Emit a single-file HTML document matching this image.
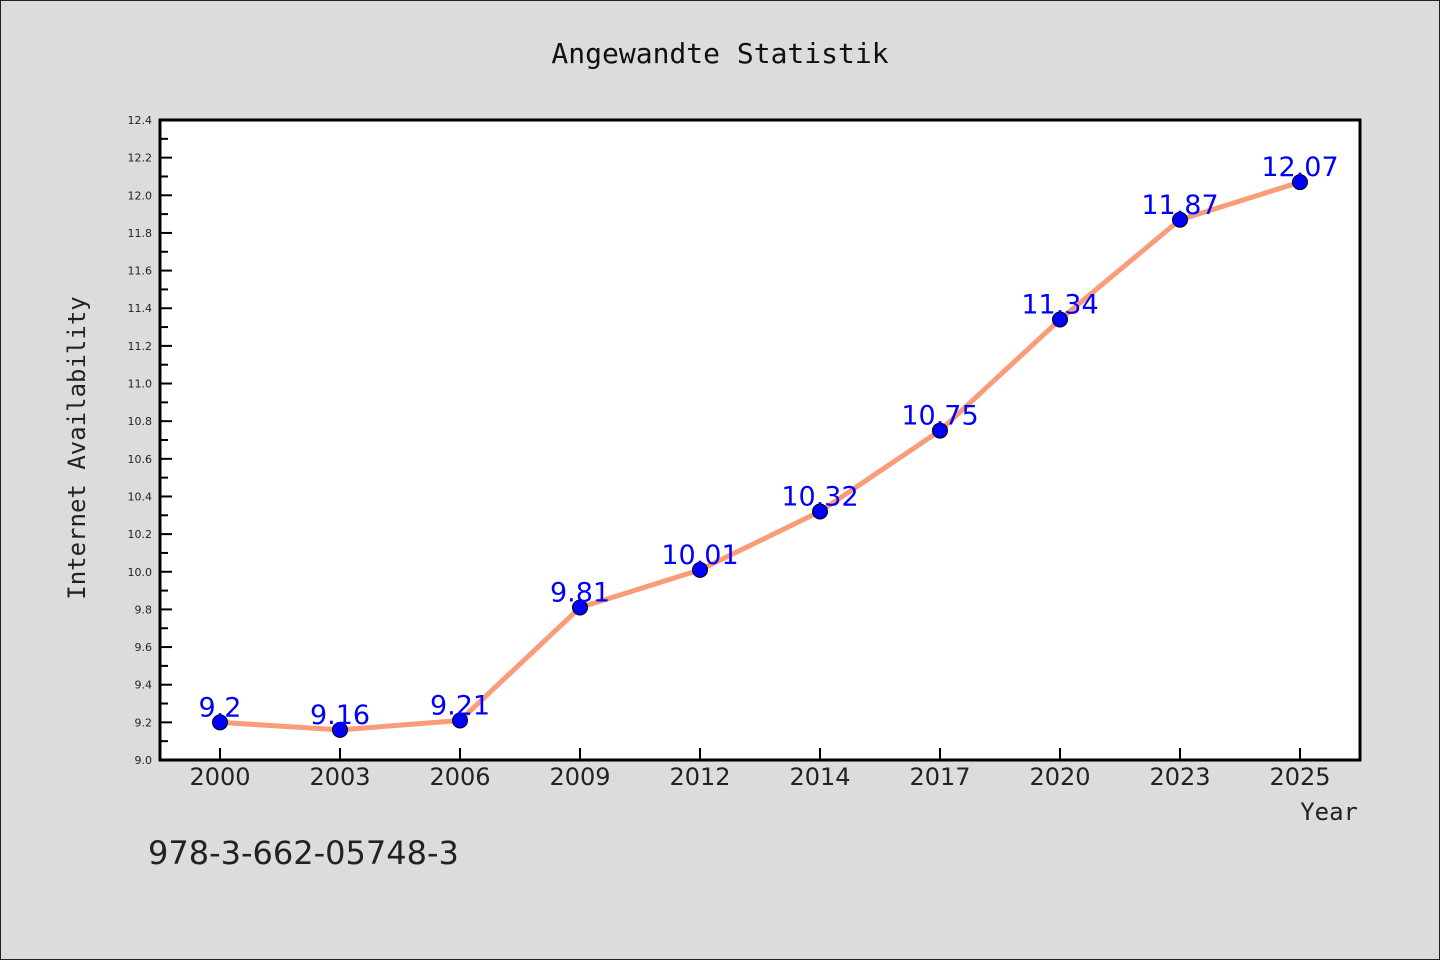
<!DOCTYPE html>
<html><head><meta charset="utf-8"><style>
body{margin:0;background:#dcdcdc;}
svg{display:block;font-family:"DejaVu Sans","Liberation Sans",sans-serif;}
</style></head><body>
<svg id="chart" width="1440" height="960" viewBox="0 0 1440 960">
<rect x="0.5" y="0.5" width="1439" height="959" fill="#dcdcdc" stroke="#222"/>
<text x="720" y="63" text-anchor="middle" font-family="DejaVu Sans Mono, monospace" font-size="28" fill="#111">Angewandte Statistik</text>
<rect x="160" y="120" width="1200" height="640" fill="#fff"/>
<g id="yticks"></g><g id="xticks"></g><g id="series"></g>
<rect x="160" y="120" width="1200" height="640" fill="none" stroke="#000" stroke-width="3"/>
<text transform="translate(85,448) rotate(-90)" text-anchor="middle" font-family="DejaVu Sans Mono, monospace" font-size="24" fill="#222">Internet Availability</text>
<text x="1358" y="820" text-anchor="end" font-family="DejaVu Sans Mono, monospace" font-size="24" fill="#222">Year</text>
<text x="148" y="864" font-size="32" fill="#222">978-3-662-05748-3</text>
</svg>
<script>
const categories=["2000","2003","2006","2009","2012","2014","2017","2020","2023","2025"];
const values=[9.2,9.16,9.21,9.81,10.01,10.32,10.75,11.34,11.87,12.07];
const valueLabels=["9.2","9.16","9.21","9.81","10.01","10.32","10.75","11.34","11.87","12.07"];
const yTickLabels=["9.0","9.2","9.4","9.6","9.8","10.0","10.2","10.4","10.6","10.8","11.0","11.2","11.4","11.6","11.8","12.0","12.2","12.4"];
const yMin=9.0,yMax=12.4;
const NS="http://www.w3.org/2000/svg";
function y(v){return 760-(v-yMin)/(yMax-yMin)*640;}
function x(i){return 220+i*120;}
function mk(t,a,p){const e=document.createElementNS(NS,t);for(const k in a)e.setAttribute(k,a[k]);p.appendChild(e);return e;}
const yt=document.getElementById('yticks');
yTickLabels.forEach((l)=>{const v=parseFloat(l);const yy=y(v);
 const ln=mk('line',{x1:160,x2:172,y1:yy,y2:yy,stroke:'#000','stroke-width':2},yt);
 
 
 const t=mk('text',{x:152,y:yy+4,'text-anchor':'end','font-size':11,fill:'#222'},yt);t.textContent=l;
 
 
 const vm=v+0.1; if(vm<yMax){const m=mk('line',{x1:160,x2:168,y1:y(vm),y2:y(vm),stroke:'#000','stroke-width':2},yt);
 
 }
});
const xt=document.getElementById('xticks');
categories.forEach((c,i)=>{
 const ln=mk('line',{x1:x(i),x2:x(i),y1:760,y2:748,stroke:'#000','stroke-width':2},xt);
 
 
 const t=mk('text',{x:x(i),y:785,'text-anchor':'middle','font-size':24,fill:'#222'},xt);t.textContent=c;
 
 
});
const s=document.getElementById('series');
const pl=mk('polyline',{points:values.map((v,i)=>x(i)+','+y(v)).join(' '),fill:'none',stroke:'#fa9c78','stroke-width':5,'stroke-linejoin':'round'},s);


values.forEach((v,i)=>{
 const c=mk('circle',{cx:x(i),cy:y(v),r:7.5,fill:'#0000ff',stroke:'#000','stroke-width':1},s);
 
 
});
values.forEach((v,i)=>{
 const t=mk('text',{x:x(i),y:y(v)-6,'text-anchor':'middle','font-size':27,fill:'#0000ff'},s);t.textContent=valueLabels[i];
 
 
});
</script>
</body></html>
